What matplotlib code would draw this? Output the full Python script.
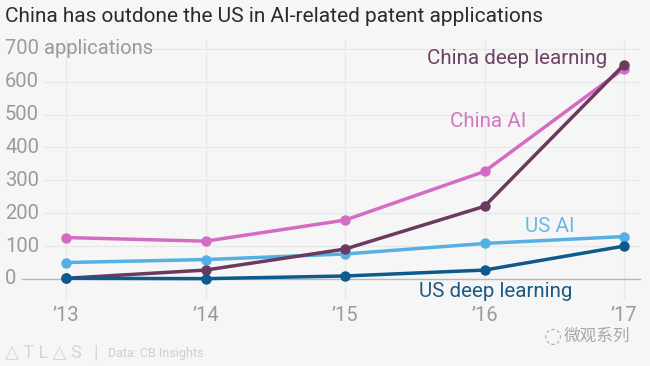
import matplotlib
matplotlib.use("Agg")
import matplotlib.pyplot as plt

years = [2013, 2014, 2015, 2016, 2017]
year_labels = ["’13", "’14", "’15", "’16", "’17"]
china_ai = [126, 115, 179, 327, 640]
china_dl = [2, 27, 91, 221, 652]
us_ai = [50, 59, 76, 108, 129]
us_dl = [2, 1, 9, 27, 100]
yticks = [0, 100, 200, 300, 400, 500, 600, 700]

c_china_ai = "#d46cc3"
c_china_dl = "#6a3a5f"
c_us_ai = "#55b1e3"
c_us_dl = "#0e5a8d"
bg = "#f6f6f6"
grid_c = "#e8e8e8"
tick_c = "#9a9a9a"

W, H = 650, 366
fig = plt.figure(figsize=(6.5, 3.66), dpi=100, facecolor=bg)
plt.rcParams['font.family'] = ['Roboto', 'DejaVu Sans']

# axes: left 43px, right 640px, top 40px, bottom 300px
ax = fig.add_axes([43 / W, 1 - 300 / H, (640 - 43) / W, (300 - 40) / H])
ax.set_facecolor(bg)
for s in ax.spines.values():
    s.set_visible(False)

px_per_year = 139.5
x0 = 2013 - (66 - 43) / px_per_year
x1 = 2013 + (640 - 66) / px_per_year
ax.set_xlim(x0, x1)
ax.set_ylim(-64, 727)

for y in yticks[1:]:
    ax.axhline(y, color=grid_c, lw=0.9, zorder=0)
for x in years:
    ax.axvline(x, color=grid_c, lw=0.9, zorder=0)
ax.plot([x0 - 21 / px_per_year, x1], [0, 0], color="#b8b8b8", lw=1.0, zorder=1, clip_on=False)

ax.set_xticks([])
ax.set_yticks([])

series = [
    (china_ai, c_china_ai),
    (us_ai, c_us_ai),
    (china_dl, c_china_dl),
    (us_dl, c_us_dl),
]
for vals, c in series:
    ax.plot(years, vals, color=c, lw=2.5, marker="o", ms=6.5, zorder=3,
            solid_capstyle="round", clip_on=False)

# y tick labels
for y in yticks:
    lab = "700 applications" if y == 700 else str(y)
    ax.text(x0 - 38 / px_per_year, y, lab, ha="left", va="center",
            fontsize=14.5, color=tick_c)
# x tick labels
for x, lab in zip(years, year_labels):
    ax.text(x, -64 - 16 / 0.33, lab, ha="center", va="center",
            fontsize=14.5, color=tick_c)

# series labels
ax.text(2016.88, 670, "China deep learning", ha="right", va="center", fontsize=14.8, color="#6b4264")
ax.text(2016.03, 479, "China AI", ha="center", va="center", fontsize=14.8, color="#d078c4")
ax.text(2016.47, 161, "US AI", ha="center", va="center", fontsize=14.8, color="#6ab8e0")
ax.text(2016.08, -39, "US deep learning", ha="center", va="center", fontsize=14.8, color="#1b5a85")

fig.text(5 / W, 1 - 17 / H, "China has outdone the US in AI-related patent applications",
         ha="left", va="center", fontsize=15, color="#2b2b2b")

fig.text(5 / W, 1 - 353 / H, "△ T L △ S", ha="left", va="center", fontsize=13, color="#d6d6d6")
fig.text(93 / W, 1 - 353 / H, "|", ha="left", va="center", fontsize=14, color="#d6d6d6")
fig.text(108 / W, 1 - 353 / H, "Data: CB Insights", ha="left", va="center", fontsize=9, color="#cfcfcf")
fig.text(630 / W, 1 - 336 / H, "微观系列", ha="right", va="center", fontsize=12,
         color="#a8a8a8", family=['Noto Sans CJK SC', 'DejaVu Sans'])
fig.text(553 / W, 1 - 336 / H, "◌", ha="center", va="center", fontsize=15,
         color="#b0b0b0", family=['DejaVu Sans'])

fig.savefig("out.png", dpi=100, facecolor=bg)
